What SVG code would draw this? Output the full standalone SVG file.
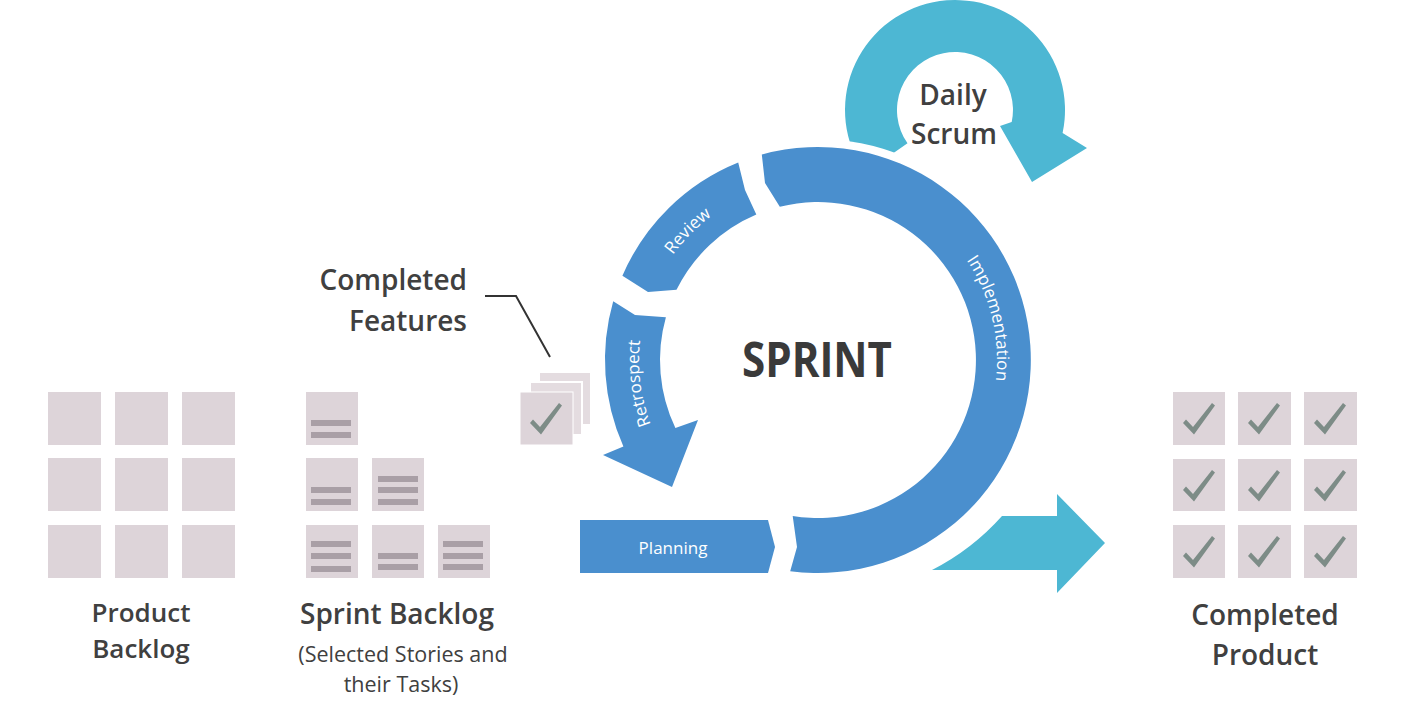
<svg xmlns="http://www.w3.org/2000/svg" width="1403" height="703" viewBox="0 0 1403 703">
<style>
.sq{fill:#ddd4d9}
.sqb{fill:#e4dce0;stroke:#fff;stroke-width:2}
.bar{fill:#a99fa6}
.chk{fill:#7d8c87}
.ring{fill:#4a8fce}
.cyan{fill:#4db7d3}
.lbl{font-family:"Open Sans","DejaVu Sans",sans-serif;font-weight:600;fill:#404040;font-size:28px}
.sub{font-family:"Open Sans","DejaVu Sans",sans-serif;font-weight:400;fill:#404040;font-size:21.5px}
.wt{font-family:"Open Sans","DejaVu Sans",sans-serif;fill:#fff;font-size:17px}
.lead{fill:none;stroke:#333;stroke-width:2}
</style>
<defs>
<path id="check" d="M10,31 L13,27.5 L20,35 L39,11 L42,13.5 L21,42.5 Z"/>
<path id="textCircle" d="M818,539 A179,179 0 1 1 818,181 A179,179 0 1 1 818,539"/>
</defs>
<rect width="1403" height="703" fill="#fff"/>

<g id="product-backlog">
<rect class="sq" x="48" y="392" width="53" height="53"/>
<rect class="sq" x="115" y="392" width="53" height="53"/>
<rect class="sq" x="182" y="392" width="53" height="53"/>
<rect class="sq" x="48" y="458" width="53" height="53"/>
<rect class="sq" x="115" y="458" width="53" height="53"/>
<rect class="sq" x="182" y="458" width="53" height="53"/>
<rect class="sq" x="48" y="525" width="53" height="53"/>
<rect class="sq" x="115" y="525" width="53" height="53"/>
<rect class="sq" x="182" y="525" width="53" height="53"/>
<text class="lbl" x="141" y="622" text-anchor="middle" font-size="26" style="font-size:26px">Product</text>
<text class="lbl" x="141" y="658" text-anchor="middle" font-size="26" style="font-size:26px">Backlog</text>
</g>

<g id="sprint-backlog">
<rect class="sq" x="306" y="392" width="52" height="53"/>
<rect class="bar" x="311" y="420" width="40" height="6"/>
<rect class="bar" x="311" y="432" width="40" height="6"/>
<rect class="sq" x="306" y="458" width="52" height="53"/>
<rect class="bar" x="311" y="487" width="40" height="6"/>
<rect class="bar" x="311" y="499" width="40" height="6"/>
<rect class="sq" x="372" y="458" width="52" height="53"/>
<rect class="bar" x="378" y="476" width="40" height="6"/>
<rect class="bar" x="378" y="487" width="40" height="6"/>
<rect class="bar" x="378" y="499" width="40" height="6"/>
<rect class="sq" x="306" y="525" width="52" height="53"/>
<rect class="bar" x="311" y="541" width="40" height="6"/>
<rect class="bar" x="311" y="553" width="40" height="6"/>
<rect class="bar" x="311" y="566" width="40" height="6"/>
<rect class="sq" x="372" y="525" width="52" height="53"/>
<rect class="bar" x="378" y="553" width="40" height="6"/>
<rect class="bar" x="378" y="564" width="40" height="6"/>
<rect class="sq" x="438" y="525" width="52" height="53"/>
<rect class="bar" x="443" y="541" width="40" height="6"/>
<rect class="bar" x="443" y="553" width="40" height="6"/>
<rect class="bar" x="443" y="564" width="40" height="6"/>
<text class="lbl" x="397" y="624" text-anchor="middle">Sprint Backlog</text>
<text class="sub" x="403" y="662" text-anchor="middle">(Selected Stories and</text>
<text class="sub" x="401" y="692" text-anchor="middle">their Tasks)</text>
</g>

<g id="completed-features">
<rect class="sqb" x="539" y="372" width="52" height="53"/>
<rect class="sqb" x="530" y="382" width="52" height="53"/>
<rect class="sq" x="520" y="392" width="53" height="53" stroke="#fff" stroke-width="1"/>
<use href="#check" class="chk" x="520" y="392"/>
<text class="lbl" x="467" y="290" text-anchor="end">Completed</text>
<text class="lbl" x="467" y="331" text-anchor="end">Features</text>
</g>

<g id="daily-scrum">
<path class="cyan" d="M864.9,173.1 A110,110 0 1 1 1062.6,132.9 L1087,148 L1032,182 L1000,126 L1011.7,122.1 A58,58 0 1 0 907.5,143.3 Z"/>
<text class="lbl" x="953" y="105" text-anchor="middle">Daily</text>
<text class="lbl" x="954" y="144" text-anchor="middle">Scrum</text>
</g>

<circle cx="818" cy="360" r="221" fill="#fff"/>

<g id="sprint">
<g id="implementation">
<path class="ring" d="M790.2,571.2 A213,213 0 1 0 761.8,154.5 L765,183 L779.8,206.7 A158,158 0 1 1 792.7,516 L797,547 Z"/>
<text class="wt"><textPath href="#textCircle" startOffset="800.7" text-anchor="middle">Implementation</textPath></text>
</g>
<g id="review">
<path class="ring" d="M738.2,162.5 A213,213 0 0 0 622.4,275.8 L648,292 L676.5,289.8 A158,158 0 0 1 756.3,214.6 L745,190 Z"/>
<text class="wt"><textPath href="#textCircle" startOffset="421" text-anchor="middle">Review</textPath></text>
</g>
<g id="retrospect">
<path class="ring" d="M613.2,301.3 A213,213 0 0 0 623.4,446.6 L603,455 L672,487 L698,420 L675.4,428 A158,158 0 0 1 665.9,317.2 L635,315 Z"/>
<text class="wt"><textPath href="#textCircle" startOffset="258" text-anchor="middle">Retrospect</textPath></text>
</g>
<g id="planning">
<path class="ring" d="M580,520 L768,520 L775,547 L768,573 L580,573 Z"/>
<text class="wt" x="673" y="554" text-anchor="middle" font-size="16.5">Planning</text>
</g>
<text x="742" y="377" font-family="Open Sans, DejaVu Sans, sans-serif" font-weight="700" font-size="48" fill="#3a3a3a" textLength="150" lengthAdjust="spacingAndGlyphs">SPRINT</text>
</g>

<g id="completed-product">
<rect class="sq" x="1173" y="392" width="52" height="53"/>
<rect class="sq" x="1238" y="392" width="53" height="53"/>
<rect class="sq" x="1304" y="392" width="53" height="53"/>
<rect class="sq" x="1173" y="459" width="52" height="52"/>
<rect class="sq" x="1238" y="459" width="53" height="52"/>
<rect class="sq" x="1304" y="459" width="53" height="52"/>
<rect class="sq" x="1173" y="525" width="52" height="53"/>
<rect class="sq" x="1238" y="525" width="53" height="53"/>
<rect class="sq" x="1304" y="525" width="53" height="53"/>
<use href="#check" class="chk" x="1173" y="392"/>
<use href="#check" class="chk" x="1238" y="392"/>
<use href="#check" class="chk" x="1304" y="392"/>
<use href="#check" class="chk" x="1173" y="459"/>
<use href="#check" class="chk" x="1238" y="459"/>
<use href="#check" class="chk" x="1304" y="459"/>
<use href="#check" class="chk" x="1173" y="525"/>
<use href="#check" class="chk" x="1238" y="525"/>
<use href="#check" class="chk" x="1304" y="525"/>
<text class="lbl" x="1265" y="625" text-anchor="middle">Completed</text>
<text class="lbl" x="1265" y="665" text-anchor="middle">Product</text>
</g>

<g id="connectors">
<polyline class="lead" points="485,296 516,296 550,357"/>
<path class="cyan" d="M932,570 L1057,570 L1057,593 L1105,543 L1057,494 L1057,516 L1002,516 A240,240 0 0 1 932,570 Z"/>
</g>
</svg>
